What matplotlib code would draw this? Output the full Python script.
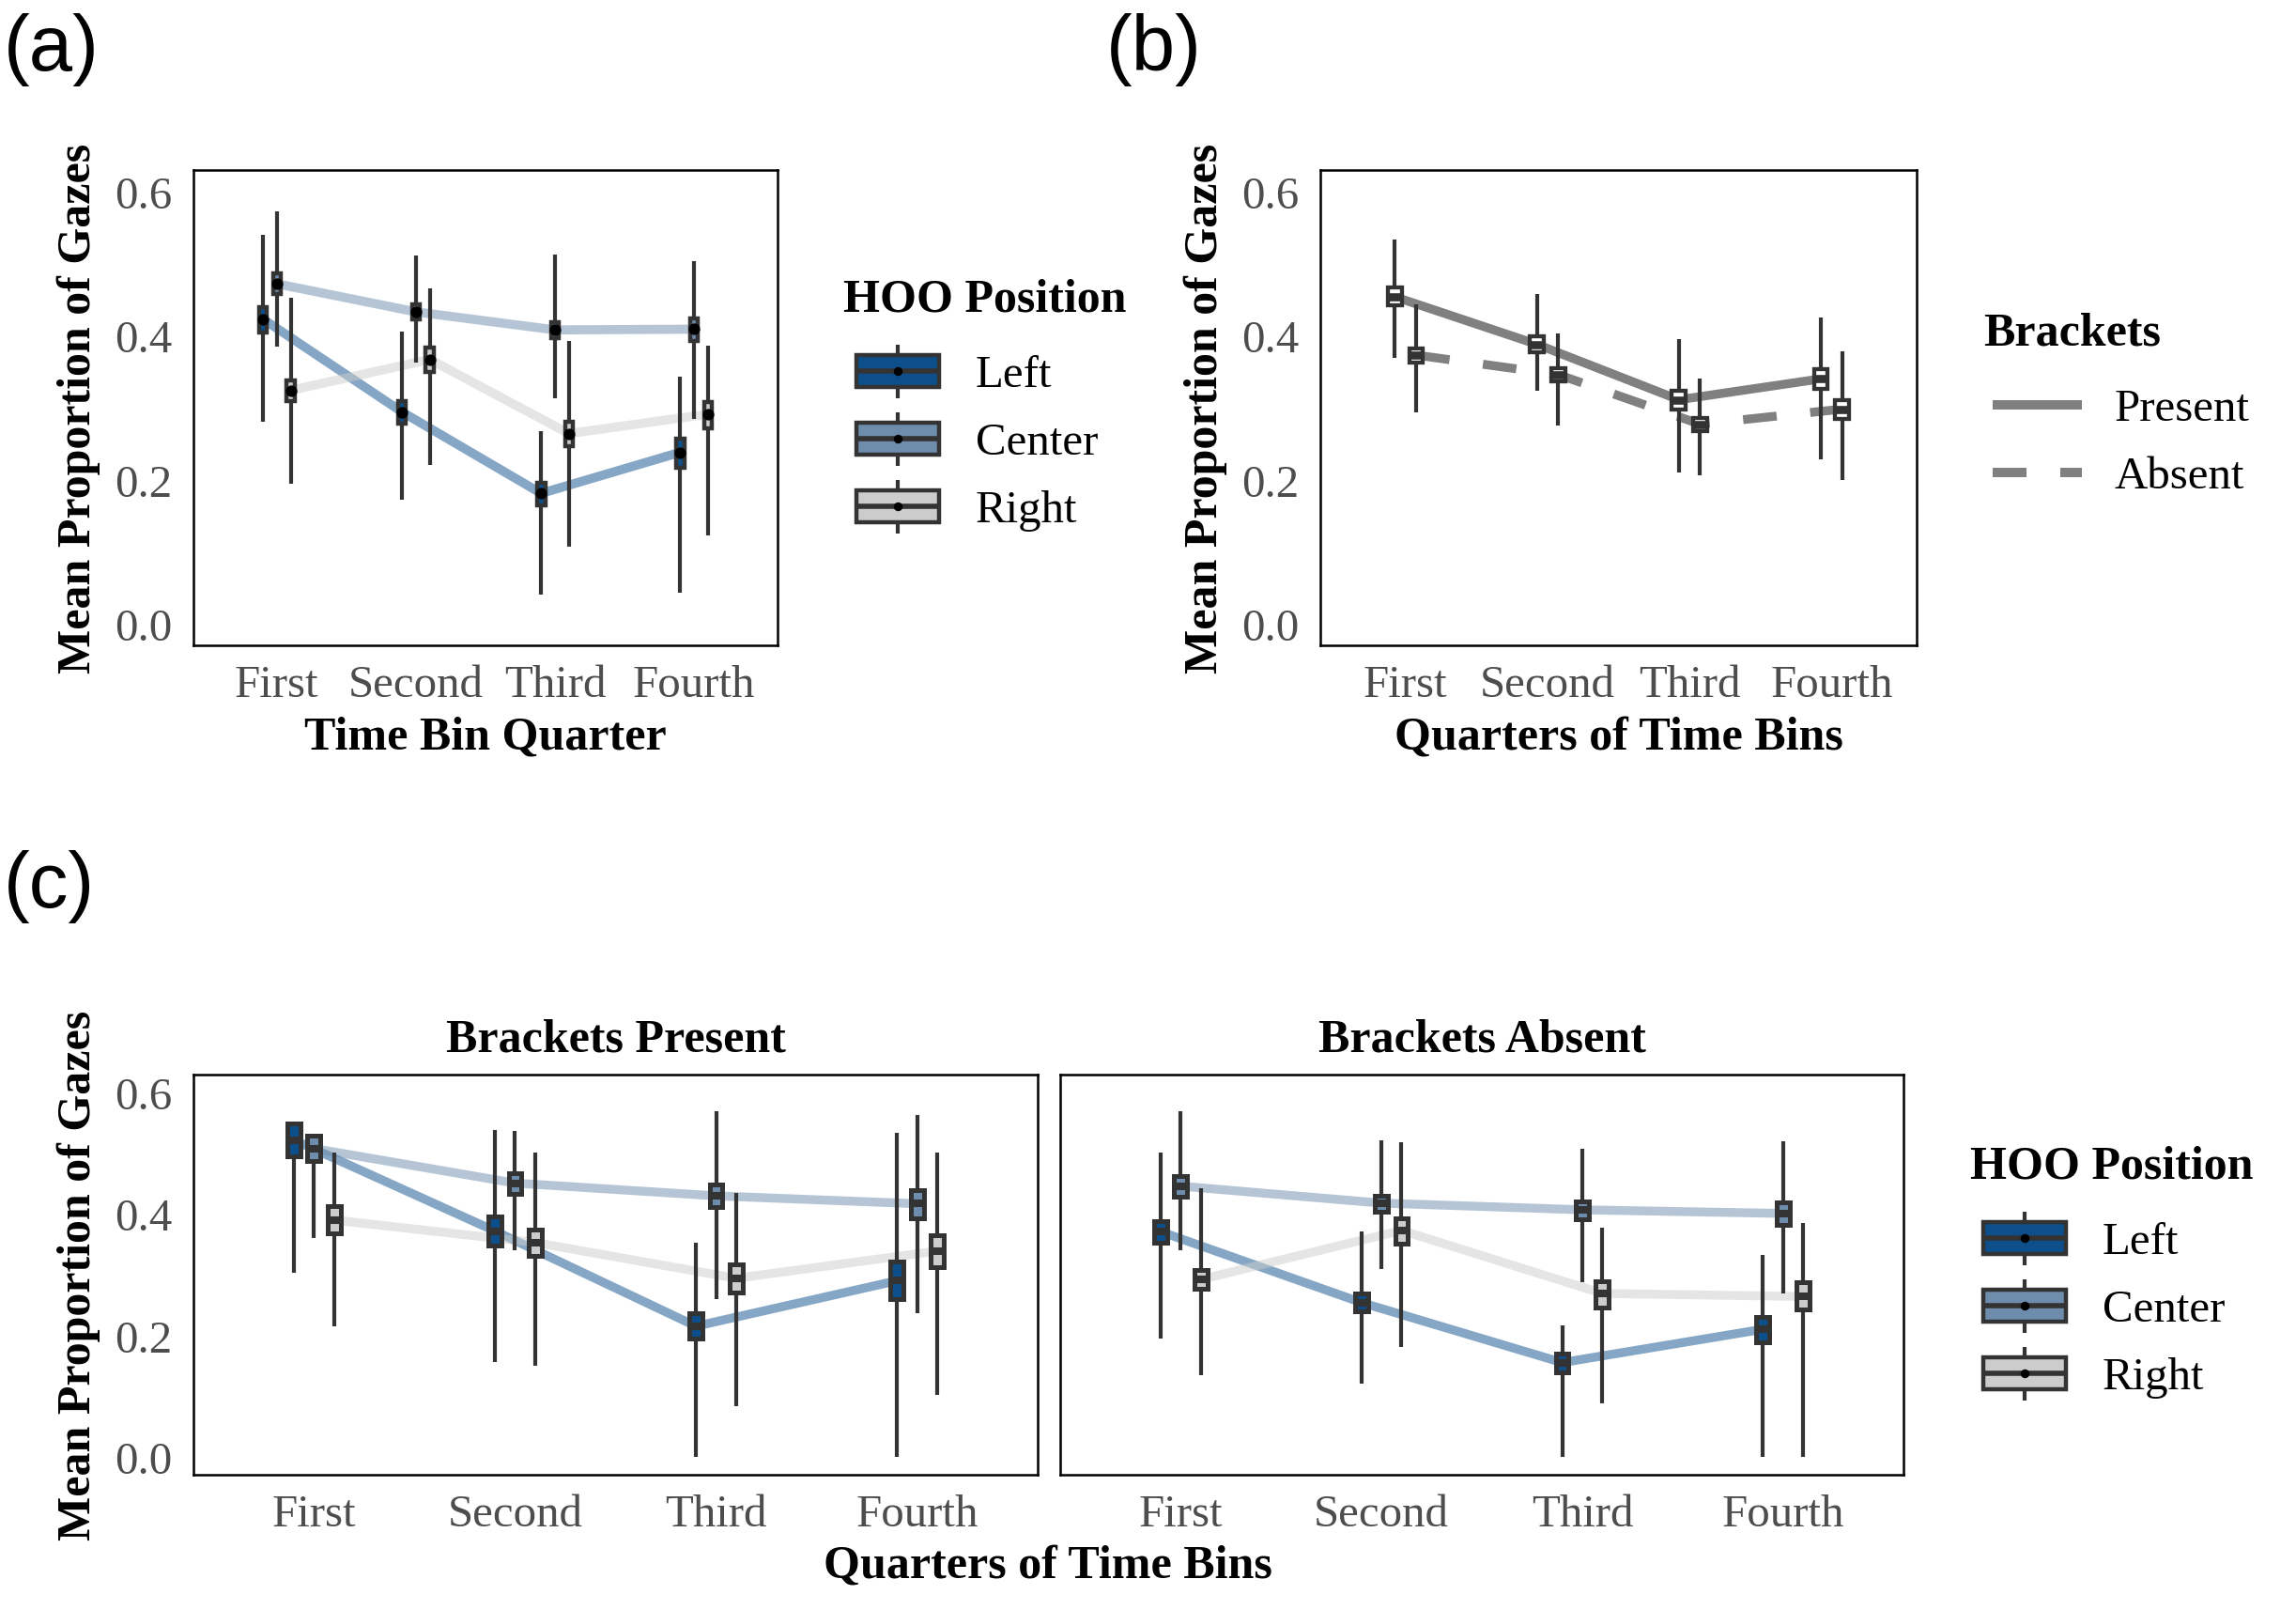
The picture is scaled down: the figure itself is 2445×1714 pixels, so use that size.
import matplotlib
matplotlib.use("Agg")
import matplotlib.pyplot as plt
from matplotlib.patches import Rectangle
import numpy as np

plt.rcParams['font.family'] = ['Liberation Serif', 'DejaVu Serif']

# ---------------- data ----------------
quarters = ['First', 'Second', 'Third', 'Fourth']
positions = ['Left', 'Center', 'Right']
brackets = ['Present', 'Absent']
y_ticks = [0.0, 0.2, 0.4, 0.6]
y_tick_labels = ['0.0', '0.2', '0.4', '0.6']

# panel (a): rows = Left, Center, Right
a_mean = [[0.423, 0.294, 0.181, 0.238],
          [0.472, 0.433, 0.408, 0.409],
          [0.324, 0.367, 0.264, 0.291]]
a_q1 = [[0.405, 0.278, 0.164, 0.217],
        [0.458, 0.422, 0.396, 0.393],
        [0.309, 0.349, 0.246, 0.271]]
a_q3 = [[0.440, 0.309, 0.196, 0.257],
        [0.486, 0.443, 0.419, 0.424],
        [0.338, 0.384, 0.280, 0.308]]
a_lo = [[0.281, 0.172, 0.041, 0.043],
        [0.385, 0.363, 0.313, 0.284],
        [0.194, 0.221, 0.107, 0.123]]
a_hi = [[0.540, 0.406, 0.268, 0.343],
        [0.573, 0.511, 0.513, 0.504],
        [0.452, 0.466, 0.392, 0.386]]

# panel (b): rows = Present, Absent
b_median = [[0.454, 0.388, 0.311, 0.340],
            [0.373, 0.346, 0.277, 0.298]]
b_q1 = [[0.442, 0.377, 0.298, 0.326],
        [0.363, 0.337, 0.268, 0.285]]
b_q3 = [[0.467, 0.399, 0.324, 0.354],
        [0.382, 0.355, 0.286, 0.311]]
b_lo = [[0.369, 0.323, 0.210, 0.228],
        [0.293, 0.275, 0.206, 0.199]]
b_hi = [[0.533, 0.458, 0.395, 0.425],
        [0.444, 0.403, 0.341, 0.378]]

# panel (c), Brackets Present: rows = Left, Center, Right
cp_median = [[0.522, 0.372, 0.215, 0.290],
             [0.508, 0.451, 0.430, 0.417],
             [0.390, 0.353, 0.294, 0.339]]
cp_q1 = [[0.495, 0.348, 0.194, 0.260],
         [0.488, 0.434, 0.411, 0.393],
         [0.368, 0.331, 0.271, 0.313]]
cp_q3 = [[0.549, 0.396, 0.237, 0.321],
         [0.529, 0.468, 0.449, 0.440],
         [0.413, 0.375, 0.317, 0.365]]
cp_lo = [[0.303, 0.156, 0.000, 0.000],
         [0.361, 0.341, 0.259, 0.237],
         [0.215, 0.149, 0.083, 0.101]]
cp_hi = [[0.549, 0.539, 0.352, 0.534],
         [0.529, 0.537, 0.569, 0.563],
         [0.501, 0.501, 0.435, 0.501]]

# panel (c), Brackets Absent
ca_median = [[0.371, 0.254, 0.155, 0.210],
             [0.446, 0.418, 0.407, 0.401],
             [0.292, 0.373, 0.269, 0.264]]
ca_q1 = [[0.352, 0.239, 0.139, 0.189],
         [0.429, 0.404, 0.391, 0.382],
         [0.276, 0.351, 0.246, 0.242]]
ca_q3 = [[0.388, 0.269, 0.170, 0.230],
         [0.463, 0.430, 0.421, 0.419],
         [0.308, 0.393, 0.289, 0.287]]
ca_lo = [[0.195, 0.121, 0.000, 0.000],
         [0.341, 0.310, 0.287, 0.269],
         [0.134, 0.181, 0.087, 0.000]]
ca_hi = [[0.501, 0.371, 0.216, 0.333],
         [0.569, 0.522, 0.507, 0.520],
         [0.443, 0.518, 0.377, 0.385]]

# ---------------- style ----------------
W, H, DPI = 2445, 1715, 200
EDGE = '#333333'
TICKC = '#4D4D4D'
pos_fill = ['#0C4F8B', '#6E8DAD', '#CCCCCC']
bracket_line = '#808080'
TICK_FS = 17.6
TITLE_FS = 18

fig = plt.figure(figsize=(W / DPI, H / DPI), dpi=DPI)
fig.patch.set_facecolor('white')

# overlay axes (pixel coords, y downward) for legends
lax = fig.add_axes([0, 0, 1, 1])
lax.set_xlim(0, W)
lax.set_ylim(H, 0)
lax.axis('off')


def px_axes(x0, y0, x1, y1):
    return fig.add_axes([x0 / W, 1 - y1 / H, (x1 - x0) / W, (y1 - y0) / H])


ax_a = px_axes(206, 182, 828, 688)
ax_b = px_axes(1406, 182, 2041, 688)
ax_c1 = px_axes(206, 1145, 1105, 1571)
ax_c2 = px_axes(1129, 1145, 2027, 1571)


def style_axes(ax, show_y=True):
    ax.set_xlim(0.4, 4.6)
    ax.set_ylim(-0.03, 0.63)
    ax.set_xticks(np.arange(1, 5))
    ax.set_xticklabels(quarters)
    ax.set_yticks(y_ticks)
    if show_y:
        ax.set_yticklabels(y_tick_labels)
    else:
        ax.set_yticklabels([])
    ax.tick_params(axis='both', length=0, labelsize=TICK_FS, labelcolor=TICKC)
    ax.tick_params(axis='y', pad=8.3)
    ax.tick_params(axis='x', pad=7.3)
    for s in ax.spines.values():
        s.set_linewidth(0.9)
        s.set_color('black')


def draw_group(ax, xs, mid, q1, q3, lo, hi, width, fill, edge_lw, med_lw, dot):
    xs = np.asarray(xs, dtype=float)
    ax.vlines(xs, lo, hi, colors=EDGE, lw=1.5, zorder=3)
    for x, a, b in zip(xs, q1, q3):
        ax.add_patch(Rectangle((x - width / 2, a), width, b - a, facecolor=fill,
                               edgecolor=EDGE, lw=edge_lw, zorder=4, joinstyle='miter'))
    ax.hlines(mid, xs - width / 2, xs + width / 2, colors=EDGE, lw=med_lw, zorder=5)
    if dot:
        ax.plot(xs, mid, 'o', color='black', ms=4.4, mec='none', zorder=6)


x = np.arange(1, 5)

# ---- panel (a) ----
style_axes(ax_a)
offs_a = [-0.1, 0.0, 0.1]
for g in range(3):
    ax_a.plot(x + offs_a[g], a_mean[g], color=pos_fill[g], alpha=0.5, lw=3.5,
              solid_capstyle='butt', zorder=2)
for g in range(3):
    draw_group(ax_a, x + offs_a[g], a_mean[g], a_q1[g], a_q3[g], a_lo[g], a_hi[g],
               0.058, pos_fill[g], 1.6, 2.4, True)

# ---- panel (b) ----
style_axes(ax_b)
offs_b = [-0.075, 0.075]
ax_b.plot(x + offs_b[0], b_median[0], color=bracket_line, lw=3.4,
          solid_capstyle='butt', zorder=2)
ax_b.plot(x + offs_b[1], b_median[1], color=bracket_line, lw=3.4,
          dashes=(3.8, 3.8), dash_capstyle='butt', zorder=2)
for g in range(2):
    draw_group(ax_b, x + offs_b[g], b_median[g], b_q1[g], b_q3[g], b_lo[g], b_hi[g],
               0.098, 'white', 1.55, 3.1, False)

# ---- panel (c) ----
for ax, med, q1, q3, lo, hi, title, showy in [
        (ax_c1, cp_median, cp_q1, cp_q3, cp_lo, cp_hi, 'Brackets Present', True),
        (ax_c2, ca_median, ca_q1, ca_q3, ca_lo, ca_hi, 'Brackets Absent', False)]:
    style_axes(ax, show_y=showy)
    offs_c = [-0.1, 0.0, 0.1]
    for g in range(3):
        ax.plot(x + offs_c[g], med[g], color=pos_fill[g], alpha=0.5, lw=3.4,
                solid_capstyle='butt', zorder=2)
    for g in range(3):
        draw_group(ax, x + offs_c[g], med[g], q1[g], q3[g], lo[g], hi[g],
                   0.065, pos_fill[g], 1.8, 2.9, False)
    ax.set_title(title, fontsize=TITLE_FS, fontweight='bold', pad=9.0)

# ---- axis titles ----
for ax, xl, axw in [(ax_a, 'Time Bin Quarter', 622), (ax_b, 'Quarters of Time Bins', 635)]:
    ax.set_ylabel('Mean Proportion of Gazes', fontsize=TITLE_FS, fontweight='bold')
    ax.yaxis.set_label_coords(-122 / axw, 0.5)
    ax.yaxis.label.set_va('center')
    ax.set_xlabel(xl, fontsize=TITLE_FS, fontweight='bold')
    ax.xaxis.set_label_coords(0.5, (688 - 798) / 506)
    ax.xaxis.label.set_va('baseline')

ax_c1.set_ylabel('Mean Proportion of Gazes', fontsize=TITLE_FS, fontweight='bold')
ax_c1.yaxis.set_label_coords(-122 / 899, 0.5)
ax_c1.yaxis.label.set_va('center')
fig.text(1116 / W, 1 - 1680 / H, 'Quarters of Time Bins', fontsize=TITLE_FS,
         fontweight='bold', ha='center', va='baseline')

# ---- panel letters ----
for lab, px, py in [('(a)', 4, 75), ('(b)', 1178, 75), ('(c)', 4, 966)]:
    fig.text(px / W, 1 - py / H, lab, fontsize=30, va='baseline', ha='left',
             family=['Liberation Sans', 'DejaVu Sans'])


# ---- legends (drawn in pixel overlay) ----
def box_key(x0, yc, fill):
    w, h = 92, 39
    lax.vlines(x0 + w / 2, yc - h / 2 - 9, yc + h / 2 + 9, colors=EDGE, lw=1.5, zorder=1)
    lax.add_patch(Rectangle((x0 + 2.2, yc - h / 2 + 2.2), w - 4.4, h - 4.4,
                            facecolor=fill, edgecolor=EDGE, lw=1.6, zorder=2))
    lax.hlines(yc, x0 + 2.2, x0 + w - 2.2, colors=EDGE, lw=2.0, zorder=3)
    lax.plot([x0 + w / 2], [yc], 'o', color='black', ms=3.4, mec='none', zorder=4)


def position_legend(tx, ty, kx, rows, lx):
    lax.text(tx, ty, 'HOO Position', fontsize=TITLE_FS, fontweight='bold', va='baseline')
    for g, yc in enumerate(rows):
        box_key(kx, yc, pos_fill[g])
        lax.text(lx, yc + 16.5, positions[g], fontsize=TICK_FS, va='baseline')


position_legend(898, 332, 910, [396, 468, 540], 1039)
position_legend(2098, 1255, 2110, [1319, 1391, 1463], 2239)

lax.text(2112, 367, 'Brackets', fontsize=TITLE_FS, fontweight='bold', va='baseline')
lax.plot([2122, 2217], [432, 432], color=bracket_line, lw=3.6, solid_capstyle='butt')
lax.plot([2122, 2217], [504, 504], color=bracket_line, lw=3.6, dashes=(3.6, 3.6),
         dash_capstyle='butt')
lax.text(2252, 432 + 16.5, brackets[0], fontsize=TICK_FS, va='baseline')
lax.text(2252, 504 + 16.5, brackets[1], fontsize=TICK_FS, va='baseline')

fig.savefig('out.png', dpi=DPI, facecolor='white')
